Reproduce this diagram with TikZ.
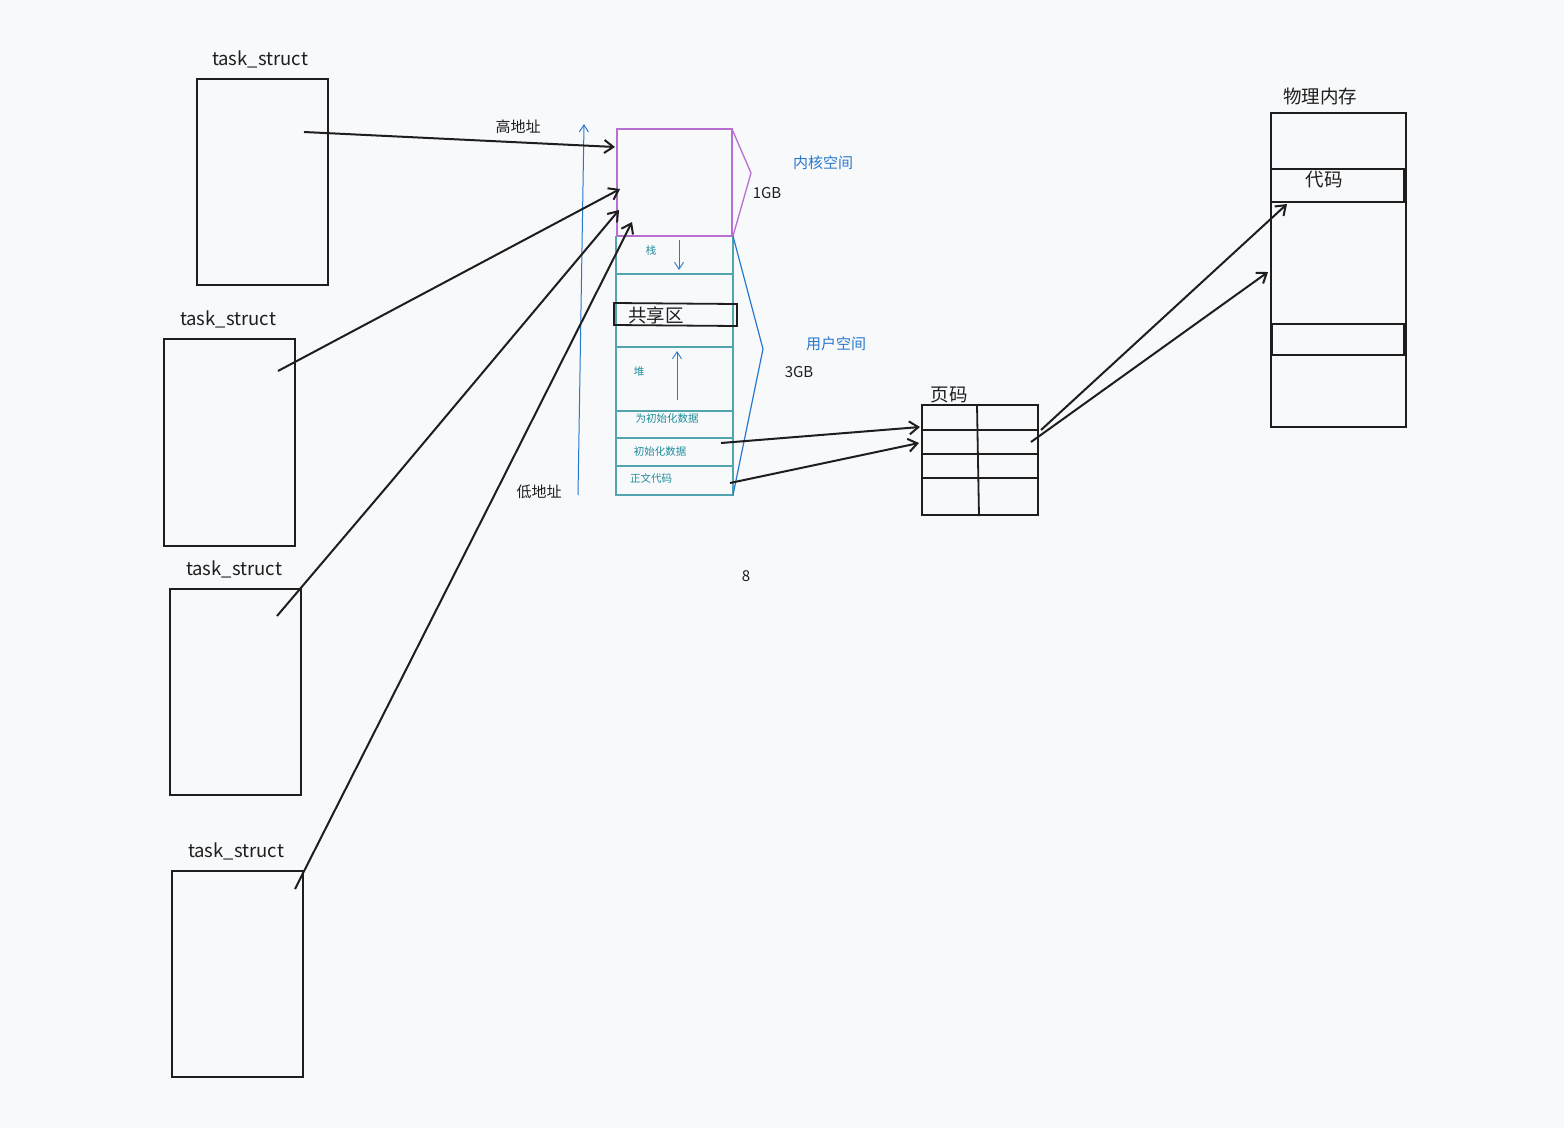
\documentclass[tikz,border=0pt]{standalone}
\usepackage{fontspec}
\setmainfont{Noto Sans CJK SC}
\usetikzlibrary{arrows.meta}
\definecolor{bgc}{RGB}{248,249,251}
\definecolor{ink}{RGB}{30,30,30}
\definecolor{kpurple}{RGB}{185,110,210}
\definecolor{uteal}{RGB}{80,165,175}
\definecolor{tealtxt}{RGB}{30,140,155}
\definecolor{ublue}{RGB}{40,120,205}
\tikzset{
  box/.style={draw=ink,line width=2pt},
  lbl/.style={font=\fontsize{18.5}{20}\selectfont,text=ink,inner sep=0pt},
  midlbl/.style={font=\fontsize{15}{17}\selectfont,text=ink,inner sep=0pt},
  bluelbl/.style={font=\fontsize{15}{17}\selectfont,text=ublue,inner sep=0pt},
  smalllbl/.style={font=\fontsize{10.5}{12}\selectfont,text=tealtxt,inner sep=0pt},
  conn/.style={draw=ink,line width=2pt,-{Straight Barb[length=9pt,width=13pt,line width=2pt]}},
  bluearrow/.style={draw=ublue,line width=1pt,-{Straight Barb[length=7pt,width=9pt]}},
  tealline/.style={draw=uteal,line width=1.3pt},
}
\begin{document}
\begin{tikzpicture}[x=1pt,y=-1pt]
\fill[bgc] (0,0) rectangle (1564,1128);
\useasboundingbox (0,0) rectangle (1564,1128);

% task_struct boxes
\node[lbl] (t1) at (260,59) {task\_struct};
\draw[box] (197,79) rectangle (328,285);
\node[lbl] (t2) at (228,319) {task\_struct};
\draw[box] (164,339) rectangle (295,546);
\node[lbl] (t3) at (234,569) {task\_struct};
\draw[box] (170,589) rectangle (301,795);
\node[lbl] (t4) at (236,851) {task\_struct};
\draw[box] (172,871) rectangle (303,1077);

% address arrow
\coordinate (lowaddr) at (578,495);
\coordinate (highaddr) at (584,124);
\draw[bluearrow] (lowaddr) -- (highaddr);
\node[midlbl] (hi) at (518,127) {高地址};
\node[midlbl] (lo) at (539,492) {低地址};

% kernel space
\draw[draw=kpurple,line width=1.5pt] (617,129) rectangle (732,236);
\draw[draw=kpurple,line width=1.3pt] (732,129) -- (751,173) -- (733,236);
\node[bluelbl] (kern) at (823,163) {内核空间};
\node[midlbl] (g1) at (767,193) {1GB};

% user space column
\draw[tealline] (616,236) -- (616,495) -- (733,495) -- (733,236);
\foreach \yy in {274,347,411,438,466} \draw[tealline] (616,\yy) -- (733,\yy);
\draw[draw=ink,line width=1.8pt] (614,303) -- (737,304) -- (737,326) -- (614,325) -- cycle;
\node[lbl] (share) at (656,315) {共享区};
\node[smalllbl] (stk) at (651,251) {栈};
\coordinate (sa1) at (679,240); \coordinate (sa2) at (679,270);
\draw[bluearrow,line width=0.9pt] (sa1) -- (sa2);
\node[smalllbl] (heap) at (639,372) {堆};
\coordinate (ha1) at (677,400); \coordinate (ha2) at (677,351);
\draw[bluearrow,line width=0.9pt] (ha1) -- (ha2);
\node[smalllbl] (bss) at (667,419) {为初始化数据};
\node[smalllbl] (data) at (660,452) {初始化数据};
\node[smalllbl] (text) at (651,478) {正文代码};
\draw[draw=ublue,line width=1.2pt] (733,236) -- (763,349) -- (733,495);
\node[bluelbl] (user) at (836,344) {用户空间};
\node[midlbl] (g3) at (799,372) {3GB};

\node[midlbl] (eight) at (746,576) {8};

% arrows from task_structs
\coordinate (s1) at (304,132); \coordinate (e1) at (615,147);
\coordinate (s2) at (278,371); \coordinate (e2) at (620,189);
\coordinate (s3) at (277,616); \coordinate (e3) at (619,210);
\coordinate (s4) at (295,889); \coordinate (e4) at (632,222);
\draw[conn] (s1) -- (e1);
\draw[conn] (s2) -- (e2);
\draw[conn] (s3) -- (390,483) -- (e3);
\draw[conn] (s4) -- (500,484) -- (e4);

% page table
\node[lbl] (pt) at (949,395) {页码};
\draw[box] (922,405) rectangle (1038,515);
\draw[box] (922,430) -- (1038,430);
\draw[draw=ink,line width=2.6pt] (922,454) -- (1039,454);
\draw[box] (922,478) -- (1038,478);
\draw[draw=ink,line width=1.8pt] (977,405) -- (979,516);

\coordinate (d1) at (721,443); \coordinate (pe1) at (920,427);
\coordinate (d2) at (730,483); \coordinate (pe2) at (919,443);
\draw[conn] (d1) -- (pe1);
\draw[conn] (d2) -- (pe2);

% physical memory
\node[lbl] (pm) at (1320,96) {物理内存};
\draw[box] (1271,113) rectangle (1406,427);
\draw[box] (1271,169) rectangle (1404,202);
\node[lbl] (code) at (1324,180) {代码};
\draw[box] (1272,324) rectangle (1404,355);

\coordinate (p1) at (1041,430); \coordinate (m1) at (1287,204);
\coordinate (p2) at (1031,442); \coordinate (m2) at (1268,272);
\draw[conn] (p1) -- (m1);
\draw[conn] (p2) -- (m2);
\end{tikzpicture}
\end{document}
